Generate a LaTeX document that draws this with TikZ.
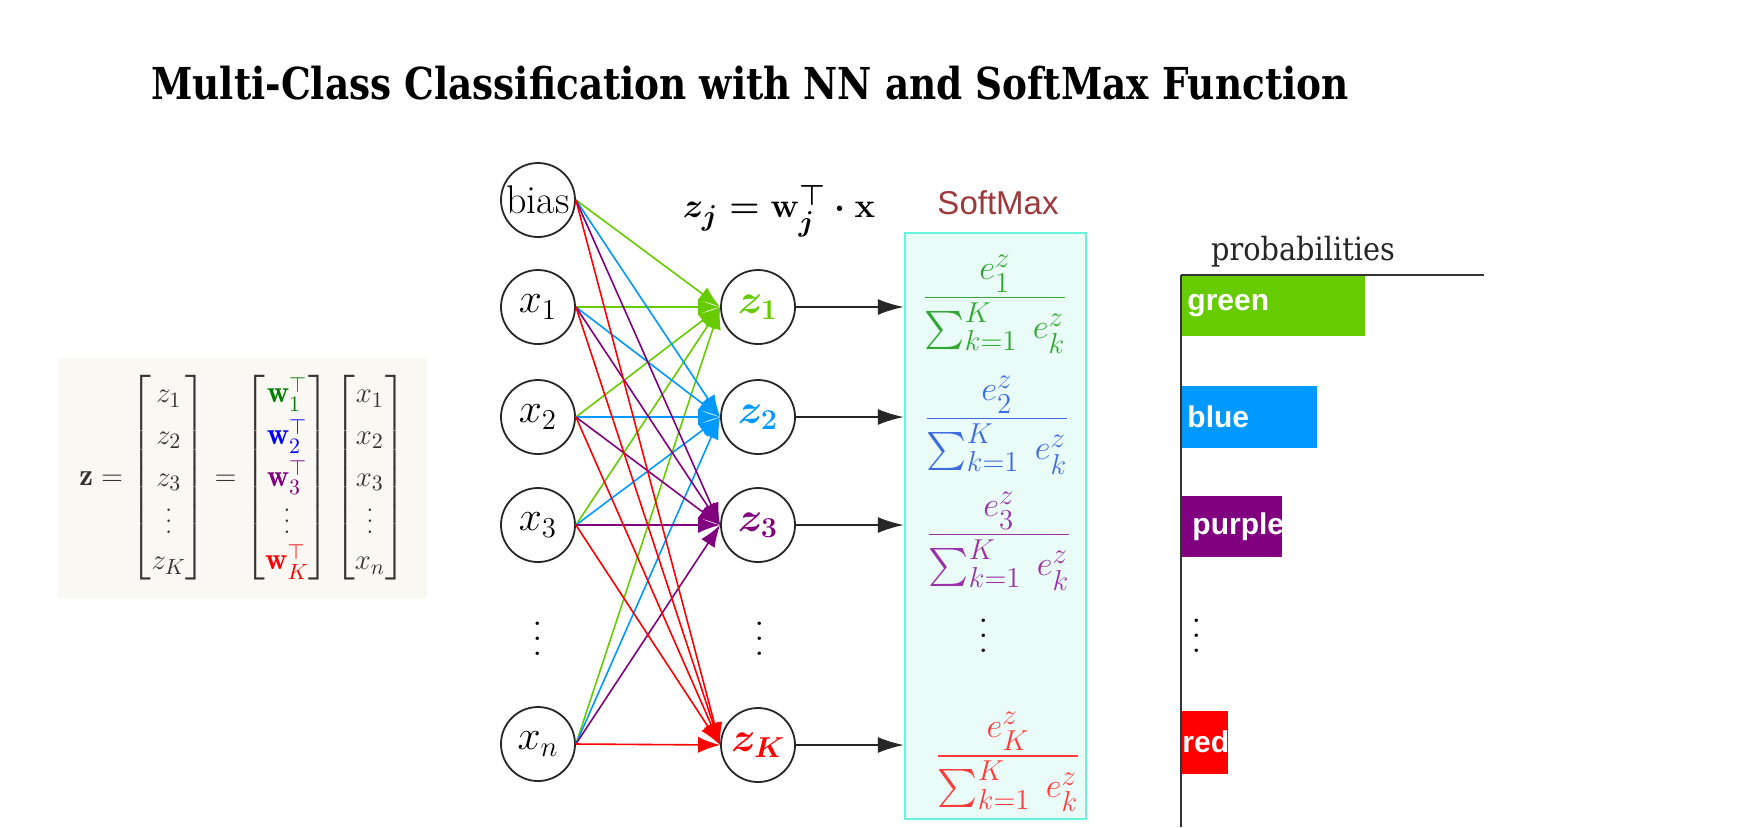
\documentclass[tikz,border=0pt]{standalone}
\usepackage{amsmath,amssymb}
\usepackage{fontspec}
\usepackage{xcolor}
\usepackage{tikz}
\usetikzlibrary{arrows.meta,positioning}
\newfontfamily\slabfont{DejaVu Serif}[FakeStretch=0.85]
\newfontfamily\labfont{DejaVu Serif}[FakeStretch=0.9]
\newfontfamily\barfont{Liberation Sans}
\newcommand{\tallvdots}[1]{\vcenter{\baselineskip=#1\lineskiplimit=0pt\hbox{.}\hbox{.}\hbox{.}}}
\definecolor{lgreen}{HTML}{66CC00}
\definecolor{sblue}{HTML}{0099FF}
\definecolor{dpurple}{HTML}{800080}
\definecolor{bred}{HTML}{FF0000}
\definecolor{fgreen}{HTML}{2EA82E}
\definecolor{fblue}{HTML}{3D6BE0}
\definecolor{fpurple}{HTML}{9B30A8}
\definecolor{fred}{HTML}{FF3B3B}
\definecolor{mgreen}{HTML}{008000}
\definecolor{mblue}{HTML}{0000FF}
\definecolor{aqua}{HTML}{66F5DA}
\definecolor{mintbg}{HTML}{E9FCF7}
\definecolor{paperbg}{HTML}{FAF8F2}
\definecolor{smred}{HTML}{9C3A3C}
\definecolor{axisgray}{HTML}{333333}
\tikzset{
  neuron/.style={circle,draw=black!85,line width=0.9pt,minimum size=37pt,inner sep=0pt,font=\fontsize{20}{24}\selectfont},
  dots/.style={inner sep=0pt,font=\fontsize{21}{25}\selectfont},
  edge/.style={-{Latex[length=11pt,width=8pt]},line width=0.8pt},
  outarr/.style={-{Latex[length=13pt,width=8pt]},line width=1pt,black!85},
  frac/.style={inner sep=0pt,font=\fontsize{19}{23}\selectfont},
  bartext/.style={anchor=west,inner sep=0pt,text=white,font=\barfont\bfseries\fontsize{15}{18}\selectfont},
  axisline/.style={axisgray,line width=1.4pt}
}
\begin{document}
\begin{tikzpicture}[x=0.5pt,y=-0.5pt]
\fill[white] (0,0) rectangle (1743,827);
\useasboundingbox (0,0) rectangle (1743,827);
% title
\node (title) at (750,83) {\slabfont\bfseries\fontsize{22}{26}\selectfont Multi-Class Classification with NN and SoftMax Function};
% matrix form
\node[fill=paperbg,minimum width=184.5pt,minimum height=120pt,inner sep=0pt,text=black!80,font=\fontsize{15.5}{18}\selectfont] (zmat) at (242.5,478)
  {$\renewcommand{\arraystretch}{1.16}\setlength{\arraycolsep}{7pt}\mathbf{z} = \begin{bmatrix} z_1\\ z_2\\ z_3\\ \tallvdots{5.5pt}\\ z_K \end{bmatrix}
   = \begin{bmatrix} \color{mgreen}\mathbf{w}_1^\top\\ \color{mblue}\mathbf{w}_2^\top\\ \color{dpurple}\mathbf{w}_3^\top\\ \tallvdots{5.5pt}\\ \color{bred}\mathbf{w}_K^\top \end{bmatrix}
   \begin{bmatrix} x_1\\ x_2\\ x_3\\ \tallvdots{5.5pt}\\ x_n \end{bmatrix}$};
% input layer
\node[neuron] (bias) at (538,200) {bias};
\node[neuron] (x1) at (538,307) {$x_1$};
\node[neuron] (x2) at (538,417) {$x_2$};
\node[neuron] (x3) at (538,525) {$x_3$};
\node[dots] (xdots) at (538,639) {$\tallvdots{7.5pt}$};
\node[neuron] (xn) at (538,744) {$x_n$};
% scores
\node[neuron,text=lgreen] (z1) at (758,307) {$\boldsymbol{z_1}$};
\node[neuron,text=sblue] (z2) at (758,417) {$\boldsymbol{z_2}$};
\node[neuron,text=dpurple] (z3) at (758,525) {$\boldsymbol{z_3}$};
\node[dots] (zdots) at (760,639) {$\tallvdots{7.5pt}$};
\node[neuron,text=bred] (zK) at (758,745) {$\boldsymbol{z_K}$};
\node[font=\boldmath\fontsize{19}{23}\selectfont] (zeq) at (779,211) {$z_j = \mathbf{w}_j^\top \cdot \mathbf{x}$};
\foreach \dst/\col in {z1/lgreen,z2/sblue,z3/dpurple,zK/bred}{
  \foreach \src in {bias,x1,x2,x3,xn}{
    \draw[edge,\col] (\src.east) -- (\dst.west);
  }
}
% softmax
\node[text=smred,font=\barfont\fontsize{16.5}{20}\selectfont] (smlabel) at (998,203) {SoftMax};
\node[draw=aqua,fill=mintbg,line width=1.2pt,minimum width=90.5pt,minimum height=293pt,inner sep=0pt] (smbox) at (995.5,526) {};
\foreach \z in {z1,z2,z3,zK}{
  \draw[outarr] (\z.east) -- (\z.east -| smbox.west);
}
\node[frac,text=fgreen] (p1) at (995,304) {$\dfrac{e^z_1}{\sum_{k=1}^{K}\; e^z_k}$};
\node[frac,text=fblue] (p2) at (997,425) {$\dfrac{e^z_2}{\sum_{k=1}^{K}\; e^z_k}$};
\node[frac,text=fpurple] (p3) at (999,541) {$\dfrac{e^z_3}{\sum_{k=1}^{K}\; e^z_k}$};
\node[dots] (pdots) at (984,636) {$\tallvdots{7.5pt}$};
\node[frac,text=fred] (pK) at (1008,762) {$\dfrac{e^z_K}{\sum_{k=1}^{K}\; e^z_k}$};
% probabilities
\node[font=\labfont\fontsize{16}{19}\selectfont,text=black!85] (problabel) at (1303,252) {probabilities};
\fill[lgreen] (1181,276) rectangle (1365,336);
\fill[sblue] (1181,386) rectangle (1317,448);
\fill[dpurple] (1181,496) rectangle (1282,557);
\fill[bred] (1181,711) rectangle (1228,774);
\node[bartext] (lgreenbar) at (1187,306) {green};
\node[bartext] (lbluebar) at (1187,417) {blue};
\node[bartext] (lpurplebar) at (1192,527) {purple};
\node[bartext] (lredbar) at (1182,742) {red};
\node[dots] (bdots) at (1197,636) {$\tallvdots{7.5pt}$};
\draw[axisline] (1181,275) -- (1484,275);
\draw[axisline] (1181,275) -- (1181,827);
\end{tikzpicture}
\end{document}
